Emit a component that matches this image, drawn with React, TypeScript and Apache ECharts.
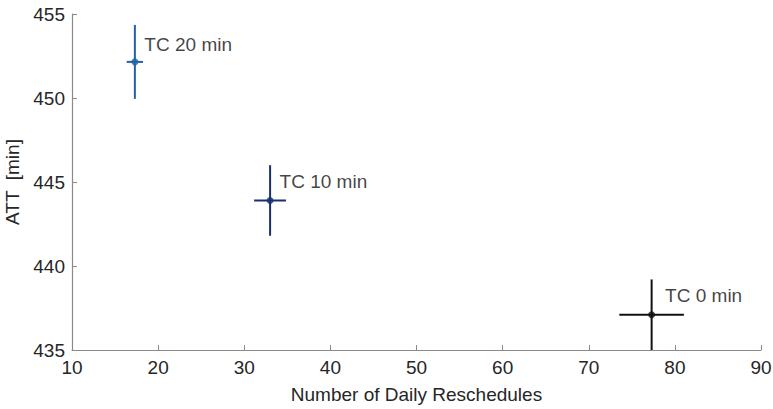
import React, { useEffect, useRef } from "react";
import * as echarts from "echarts";

const names = ["TC 20 min", "TC 10 min", "TC 0 min"];
const xs = [17.3, 33.0, 77.3];
const ys = [452.15, 443.9, 437.1];
const xErr = [0.95, 1.85, 3.75];
const yLow = [449.95, 441.8, 434.8];
const yHigh = [454.35, 446.0, 439.2];
const colors = ["#2061a6", "#17306e", "#111111"];
const labelOffsets = [[2, -17], [2, -19], [6, -19]];

const xTicks = { min: 10, max: 90, interval: 10 };
const yTicks = { min: 435, max: 455, interval: 5 };

const FONT = "'Liberation Sans', Arial, Helvetica, sans-serif";
const AXIS_COLOR = "#8a8a8a";
const TEXT_COLOR = "#262626";
const FS = 19;

export default function App() {
  const ref = useRef<HTMLDivElement>(null);
  useEffect(() => {
    if (!ref.current) return;
    const chart = echarts.init(ref.current, null, { renderer: "svg" });
    const errData = xs.map((x, i) => [x, ys[i], xErr[i], yLow[i], yHigh[i], i]);
    chart.setOption({
      animation: false,
      backgroundColor: "#ffffff",
      textStyle: { fontFamily: FONT },
      grid: {
        left: 72,
        right: 12,
        top: 14,
        bottom: 59,
        containLabel: false,
        outerBoundsMode: "none",
      },
      xAxis: {
        type: "value",
        min: xTicks.min,
        max: xTicks.max,
        interval: xTicks.interval,
        name: "Number of Daily Reschedules",
        nameLocation: "middle",
        nameGap: 35,
        nameTextStyle: { fontSize: FS, color: TEXT_COLOR, fontFamily: FONT },
        axisLine: { show: true, lineStyle: { color: AXIS_COLOR, width: 1.2 } },
        axisTick: { show: true, inside: true, length: 5, lineStyle: { color: AXIS_COLOR } },
        axisLabel: { fontSize: FS, color: TEXT_COLOR, margin: 8, fontFamily: FONT },
        splitLine: { show: false },
      },
      yAxis: {
        type: "value",
        min: yTicks.min,
        max: yTicks.max,
        interval: yTicks.interval,
        name: "ATT  [min]",
        nameLocation: "middle",
        nameGap: 40,
        nameTextStyle: { fontSize: FS, color: TEXT_COLOR, fontFamily: FONT },
        axisLine: { show: true, lineStyle: { color: AXIS_COLOR, width: 1.2 } },
        axisTick: { show: true, inside: true, length: 5, lineStyle: { color: AXIS_COLOR } },
        axisLabel: { fontSize: FS, color: TEXT_COLOR, margin: 7, fontFamily: FONT },
        splitLine: { show: false },
      },
      series: [
        {
          type: "custom",
          clip: true,
          data: errData,
          renderItem: (params: any, api: any) => {
            const x = api.value(0);
            const y = api.value(1);
            const xe = api.value(2);
            const lo = api.value(3);
            const hi = api.value(4);
            const idx = api.value(5);
            const c = colors[idx];
            const l = api.coord([x - xe, y]);
            const r = api.coord([x + xe, y]);
            const t = api.coord([x, hi]);
            const b = api.coord([x, lo]);
            return {
              type: "group",
              children: [
                {
                  type: "line",
                  shape: { x1: l[0], y1: l[1], x2: r[0], y2: r[1] },
                  style: { stroke: c, lineWidth: 2 },
                },
                {
                  type: "line",
                  shape: { x1: t[0], y1: t[1], x2: b[0], y2: b[1] },
                  style: { stroke: c, lineWidth: 2 },
                },
              ],
            };
          },
          z: 2,
        },
        {
          type: "scatter",
          symbol: "circle",
          symbolSize: 7,
          z: 3,
          data: xs.map((x, i) => ({
            value: [x, ys[i]],
            itemStyle: { color: colors[i] },
            label: {
              show: true,
              formatter: names[i],
              position: "right",
              distance: 4,
              offset: labelOffsets[i],
              fontSize: FS,
              color: "#111111",
              fontFamily: FONT,
            },
          })),
        },
      ],
    });
    return () => chart.dispose();
  }, []);
  return (
    <div
      ref={ref}
      style={{ position: "fixed", left: 0, top: 0, width: 773, height: 409, background: "#fff" }}
    />
  );
}
